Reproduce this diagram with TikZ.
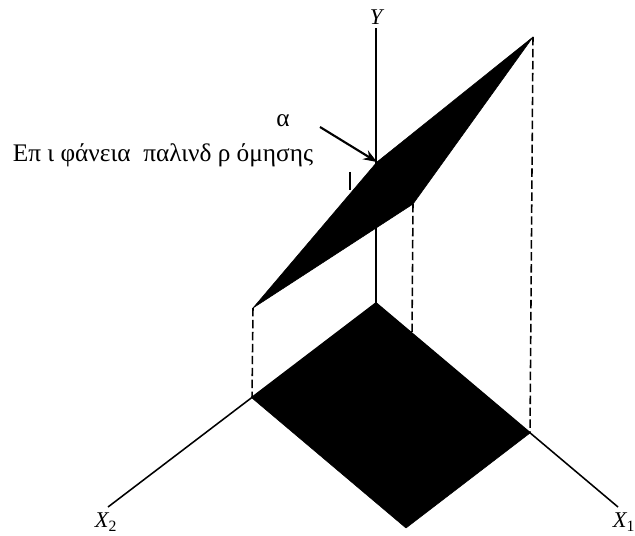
\documentclass[tikz,border=0pt]{standalone}
\usepackage{fontspec}
\setmainfont{Liberation Serif}
\usetikzlibrary{arrows.meta}

\begin{document}
\begin{tikzpicture}[
      x=0.025cm, y=-0.025cm,
      every node/.style={font=\fontsize{18}{21}\selectfont},
      axlabel/.style={font=\fontsize{16}{19}\selectfont\itshape},
      axis/.style={line width=1.1pt},
      proj/.style={line width=1.1pt, dash pattern=on 6pt off 2.5pt},
      surf/.style={fill=black, draw=black, line join=round},
      >=Stealth,
    ]
    \useasboundingbox (0,0) rectangle (635,536);

    % axes
    \coordinate (O) at (376,303);
    \coordinate (Ytop) at (376,28);
    \coordinate (X1end) at (618,507);
    \coordinate (X2end) at (108,507);
    \draw[axis] (O) -- (Ytop);
    \draw[axis] (O) -- (X1end);
    \draw[axis] (O) -- (X2end);
    \node[axlabel] (Y) at (376,17) {Y};
    \node[axlabel] (X1) at (624,522) {X\textsubscript{\upshape 1}};
    \node[axlabel] (X2) at (106,522) {X\textsubscript{\upshape 2}};

    % region on the X1-X2 plane
    \coordinate (F1) at (252,398);
    \coordinate (F2) at (530,433);
    \coordinate (F3) at (406,528);
    \coordinate (F4) at (412,333);
    \fill[surf] (O) -- (F1) -- (F3) -- (F2) -- cycle;

    % regression surface
    \coordinate (P1) at (253,308);
    \coordinate (P2) at (377,162);
    \coordinate (P3) at (533,37);
    \coordinate (P4) at (413,204);
    \fill[surf] (P1) -- (P2) -- (P3) -- (P4) -- cycle;

    % projections
    \draw[proj] (P1) -- (F1);
    \draw[proj] (P3) -- (F2);
    \draw[proj] (P4) -- (F4);
    \coordinate (H1) at (350,172);
    \coordinate (H2) at (350,190);
    \draw[axis] (H1) -- (H2);

    % labels
    \node (surfname) at (163,155) {Επ ι φάνεια\ \ παλινδ ρ όμησης};
    \node (alpha) at (283,121) {α};
    \coordinate (tail) at (320,127);
    \draw[->, line width=1.5pt] (tail) -- (P2);
  \end{tikzpicture}
\end{document}
